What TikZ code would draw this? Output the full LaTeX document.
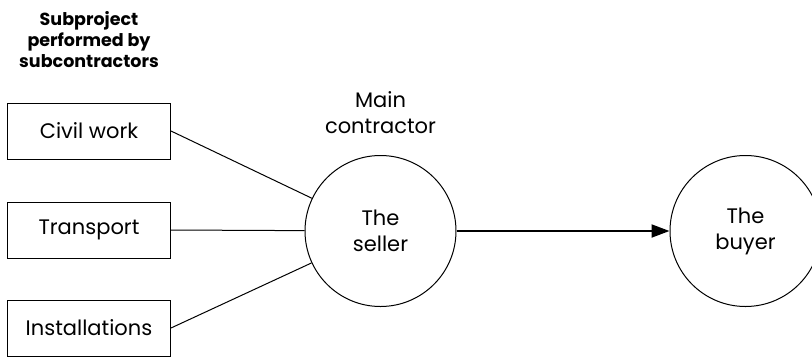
\documentclass[tikz,border=0pt]{standalone}
\usepackage{fontspec}
\setmainfont{Poppins}
\usetikzlibrary{arrows.meta}
\begin{document}
\begin{tikzpicture}[x=1pt,y=-1pt,
  txt/.style={font=\fontsize{21}{26}\selectfont, align=center, inner sep=0pt},
  box/.style={draw, line width=1pt, minimum width=163pt, minimum height=56pt, inner sep=0pt, font=\fontsize{21}{26}\selectfont},
  party/.style={draw, circle, line width=1pt, minimum size=151pt, inner sep=0pt, align=center, font=\fontsize{21}{26}\selectfont},
  link/.style={line width=1pt},
  flow/.style={line width=2pt, -{Triangle[length=18pt,width=13pt]}}]
\useasboundingbox (0,0) rectangle (812,357);
\node[txt, font=\bfseries\fontsize{17.5}{21}\selectfont] (title) at (89,40) {Subproject\\performed by\\subcontractors};
\node[box] (civil) at (89,131) {Civil work};
\node[box] (trans) at (89,230) {Transport};
\node[box] (inst) at (89,328) {Installations};
\node[party] (seller) at (380.5,231) {The\\seller};
\node[party] (buyer) at (745.5,231) {The\\buyer};
\node[txt] (main) at (380.5,113) {Main\\contractor};
\draw[link] (civil.east) -- (seller);
\draw[link] (trans.east) -- (seller);
\draw[link] (inst.east) -- (seller);
\draw[flow] (seller) -- (buyer);
\end{tikzpicture}
\end{document}
